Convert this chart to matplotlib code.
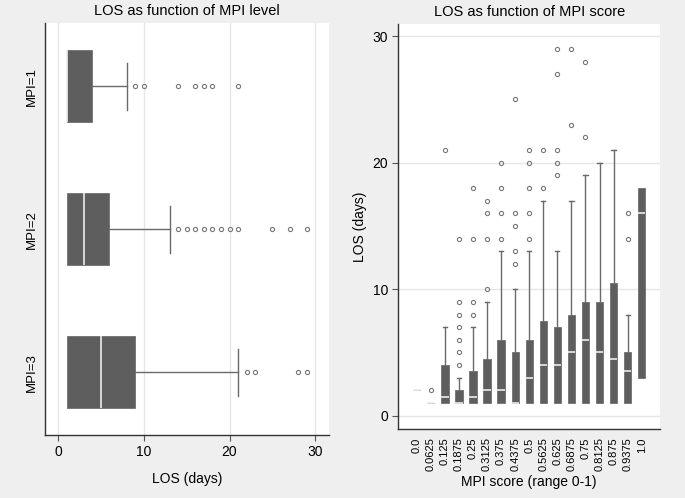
import numpy as np
import matplotlib.pyplot as plt

plt.rcParams['font.family'] = ['Liberation Sans', 'DejaVu Sans']

bg = '#efefef'
box_col = '#5e5e5e'
line_col = '#6a6a6a'
med_col = '#ececec'
grid_col = '#e6e6e6'

# left panel: LOS by MPI level
levels = ['MPI=1', 'MPI=2', 'MPI=3']
lvl_q1 = [1, 1, 1]
lvl_med = [1, 3, 5]
lvl_q3 = [4, 6, 9]
lvl_whishi = [8, 13, 21]
lvl_fliers = [
    [9, 10, 14, 16, 17, 18, 21],
    [14, 15, 16, 17, 18, 19, 20, 21, 25, 27, 29],
    [22, 23, 28, 29],
]

# right panel: LOS by MPI score
scores = ['0.0', '0.0625', '0.125', '0.1875', '0.25', '0.3125', '0.375', '0.4375',
          '0.5', '0.5625', '0.625', '0.6875', '0.75', '0.8125', '0.875', '0.9375', '1.0']
sc_q1 = [2, 1, 1, 1, 1, 1, 1, 1, 1, 1, 1, 1, 1, 1, 1, 1, 3]
sc_med = [2, 1, 1.5, 1, 1.5, 2, 2, 1, 3, 4, 4, 5, 6, 5, 4.5, 3.5, 16]
sc_q3 = [2, 1, 4, 2, 3.5, 4.5, 6, 5, 6, 7.5, 7, 8, 9, 9, 10.5, 5, 18]
sc_whishi = [2, 1, 7, 3, 7, 9, 13, 10, 13, 17, 13, 17, 19, 20, 21, 8, 18]
sc_fliers = [
    [], [2], [21], [4, 5, 6, 7, 8, 9, 14], [8, 9, 14, 18], [10, 14, 16, 17],
    [14, 16, 18, 20], [12, 13, 15, 16, 25], [14, 16, 18, 20, 21], [18, 21],
    [19, 20, 21, 27, 29], [23, 29], [22, 28], [], [], [14, 16], [],
]


def make_stats(q1, med, q3, hi, fl):
    out = []
    for a, m, b, h, f in zip(q1, med, q3, hi, fl):
        out.append(dict(q1=a, med=m, q3=b, whislo=a, whishi=h, fliers=f))
    return out


def draw(ax, stats, orient, width, capw):
    bp = ax.bxp(stats, orientation=orient, widths=width, capwidths=capw,
                patch_artist=True, showfliers=True,
                boxprops=dict(facecolor=box_col, edgecolor='#707070', linewidth=0.6),
                medianprops=dict(color=med_col, linewidth=1.2),
                whiskerprops=dict(color=line_col, linewidth=1.0),
                capprops=dict(color=line_col, linewidth=1.0),
                flierprops=dict(marker='o', markersize=3, markerfacecolor='none',
                                markeredgecolor='#777777', markeredgewidth=0.8))
    # no cap where the whisker has no length
    for i, s in enumerate(stats):
        if s['whishi'] == s['q3']:
            bp['caps'][2 * i + 1].set_visible(False)
        bp['caps'][2 * i].set_visible(False)
    return bp


fig = plt.figure(figsize=(6.85, 4.98), dpi=100, facecolor=bg)

# left
ax1 = fig.add_axes([0.0653, 0.1265, 0.415, 0.8267])
ax1.set_axisbelow(True)
for x in [0, 10, 20, 30]:
    ax1.axvline(x, color=grid_col, linewidth=1, zorder=0)
draw(ax1, make_stats(lvl_q1, lvl_med, lvl_q3, lvl_whishi, lvl_fliers),
     'horizontal', 0.5, 0.33)
ax1.set_xlim(-1.55, 31.6)
ax1.set_ylim(3.44, 0.56)
ax1.set_yticks([1, 2, 3])
ax1.set_yticklabels(levels, rotation=90, va='center', fontsize=9.5)
ax1.tick_params(axis='y', length=0, pad=5)
ax1.set_xticks([0, 10, 20, 30])
ax1.tick_params(axis='x', labelsize=10, length=4, color='#555555')
ax1.set_xlabel('LOS (days)', fontsize=10, labelpad=9)
ax1.set_title('LOS as function of MPI level', fontsize=10.5, pad=6)

# right
ax2 = fig.add_axes([0.5815, 0.1386, 0.382, 0.813])
ax2.set_axisbelow(True)
for y in [0, 10, 20, 30]:
    ax2.axhline(y, color=grid_col, linewidth=1, zorder=0)
draw(ax2, make_stats(sc_q1, sc_med, sc_q3, sc_whishi, sc_fliers),
     'vertical', 0.52, 0.3)
ax2.set_xticks(np.arange(1, len(scores) + 1))
ax2.set_xticklabels(scores, rotation=90, fontsize=8)
ax2.tick_params(axis='x', length=0, pad=6)
ax2.set_xlim(1 - 1.31, len(scores) + 1.3)
ax2.set_ylim(-1.05, 30.96)
ax2.set_yticks([0, 10, 20, 30])
ax2.tick_params(axis='y', labelsize=10, length=4, color='#555555')
ax2.set_xlabel('MPI score (range 0-1)', fontsize=10, labelpad=3)
ax2.set_ylabel('LOS (days)', fontsize=10, labelpad=4)
ax2.set_title('LOS as function of MPI score', fontsize=10.5, pad=6)

for ax in (ax1, ax2):
    ax.set_facecolor('white')
    for side in ['top', 'right']:
        ax.spines[side].set_visible(False)
    for side in ['left', 'bottom']:
        ax.spines[side].set_color('#333333')
        ax.spines[side].set_linewidth(1.0)

fig.savefig('out.png', dpi=100, facecolor=bg)
